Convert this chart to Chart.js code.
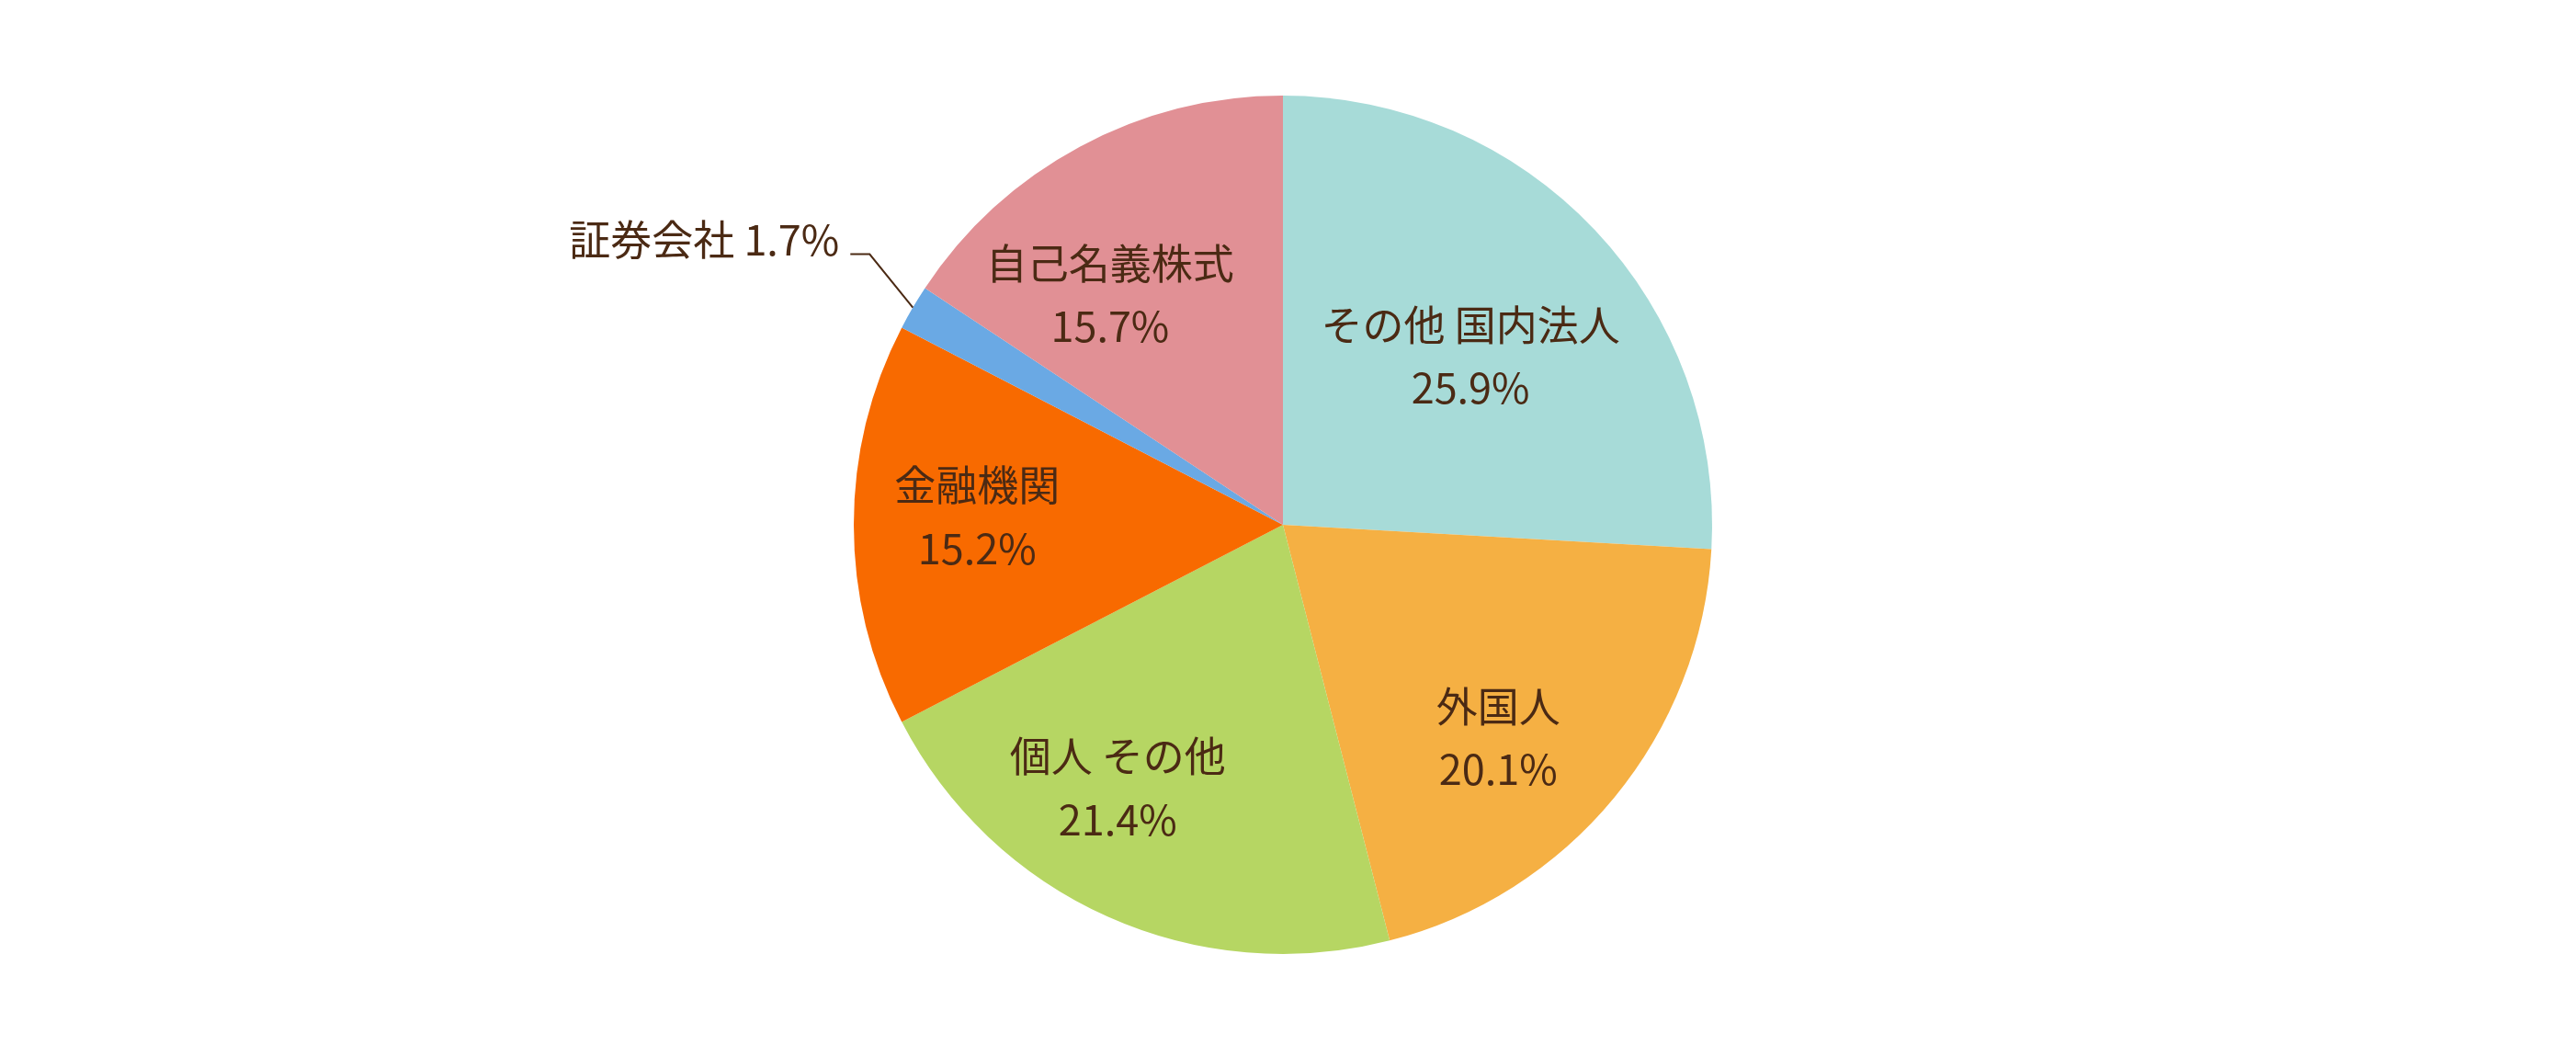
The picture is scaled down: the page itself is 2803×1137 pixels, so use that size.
<!DOCTYPE html>
<html lang="ja">
<head>
<meta charset="utf-8">
<script src="https://cdn.jsdelivr.net/npm/chart.js@4"></script>
<style>
  html, body { margin: 0; padding: 0; background: #ffffff; }
  #wrap { width: 2803px; height: 1137px; }
</style>
</head>
<body>
<div id="wrap"><canvas id="c" width="2803" height="1137"></canvas></div>
<script>
// ---- data ----
const categories = ["その他 国内法人", "外国人", "個人 その他", "金融機関", "証券会社", "自己名義株式"];
const shares = [25.9, 20.1, 21.4, 15.2, 1.7, 15.7];
const percentLabels = ["25.9%", "20.1%", "21.4%", "15.2%", "1.7%", "15.7%"];
const sliceColors = ["#a7dbd8", "#f5b043", "#b6d663", "#f86a00", "#6aa9e4", "#e19095"];

// ---- label placement styling (relative to each slice's own geometry) ----
// r: fraction of outer radius, da: angle nudge in degrees, gap: line gap, outside: leader label
const labelStyle = [
  { r: 0.587, da: 1.5, gap: 68 },
  { r: 0.706, da: 5.3, gap: 68 },
  { r: 0.724, da: 8,   gap: 69 },
  { r: 0.713, da: 1.5, gap: 69 },
  { outside: true, elbow: [-47, -58], tail: -21, textGap: 12 },
  { r: 0.67, da: -8.7, gap: 68 }
];
const textColor = "#4b2a14";
const fontFamily = '"Noto Sans CJK JP", "Noto Sans", sans-serif';

const labelPlugin = {
  id: 'sliceLabels',
  afterDatasetsDraw(chart) {
    const ctx = chart.ctx;
    const meta = chart.getDatasetMeta(0);
    ctx.save();
    ctx.fillStyle = textColor;
    ctx.strokeStyle = textColor;
    ctx.font = '400 45px ' + fontFamily;
    ctx.textBaseline = 'middle';
    meta.data.forEach((arc, i) => {
      const st = labelStyle[i];
      const p = arc.getProps(['x', 'y', 'startAngle', 'endAngle', 'outerRadius'], true);
      const mid = (p.startAngle + p.endAngle) / 2;
      if (st.outside) {
        const ex = p.x + Math.cos(mid) * p.outerRadius;
        const ey = p.y + Math.sin(mid) * p.outerRadius;
        const bx = ex + st.elbow[0], by = ey + st.elbow[1];
        const tx = bx + st.tail;
        ctx.lineWidth = 2;
        ctx.beginPath();
        ctx.moveTo(ex, ey);
        ctx.lineTo(bx, by);
        ctx.lineTo(tx, by);
        ctx.stroke();
        ctx.textAlign = 'right';
        ctx.fillText(categories[i] + ' ' + percentLabels[i], tx - st.textGap, by - 16);
      } else {
        const a = mid + st.da * Math.PI / 180;
        const cx = p.x + Math.cos(a) * p.outerRadius * st.r;
        const cy = p.y + Math.sin(a) * p.outerRadius * st.r;
        ctx.textAlign = 'center';
        ctx.fillText(categories[i], cx, cy - st.gap / 2);
        ctx.fillText(percentLabels[i], cx, cy + st.gap / 2);
      }
    });
    ctx.restore();
  }
};

new Chart(document.getElementById('c'), {
  type: 'pie',
  data: {
    labels: categories,
    datasets: [{
      data: shares,
      backgroundColor: sliceColors,
      borderWidth: 0,
      hoverOffset: 0
    }]
  },
  options: {
    responsive: false,
    animation: false,
    layout: { padding: { left: 929, right: 940, top: 104, bottom: 99 } },
    plugins: {
      legend: { display: false },
      tooltip: { enabled: false },
      title: { display: false }
    }
  },
  plugins: [labelPlugin]
});
</script>
</body>
</html>
